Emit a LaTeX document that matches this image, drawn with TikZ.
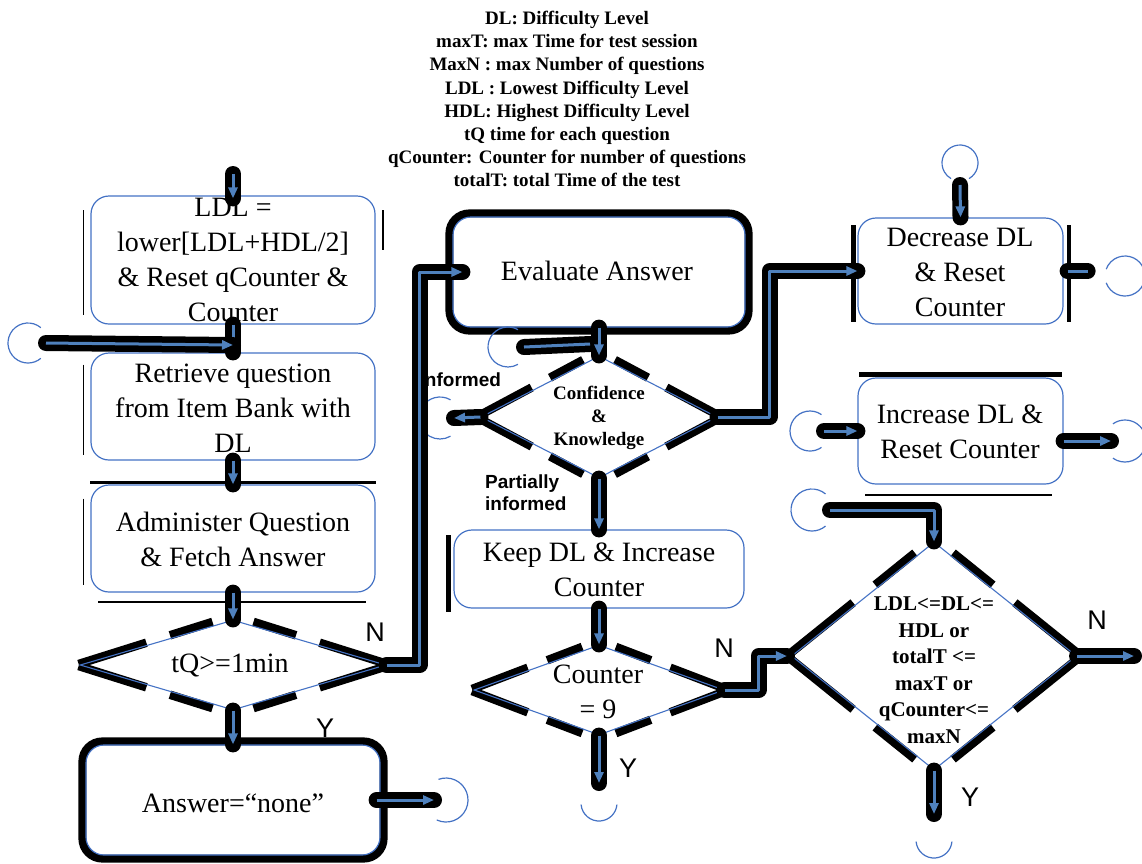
\documentclass[tikz,border=0pt]{standalone}
\usepackage{fontspec}
\setmainfont{Liberation Serif}
\newfontfamily\arialf{Liberation Sans}
\usetikzlibrary{shapes.geometric,arrows.meta,calc,backgrounds}
\definecolor{bblue}{HTML}{4472C4}
\definecolor{ablue}{HTML}{4F81BD}
\newcommand\diashade[1]{%
  \coordinate (#1-W) at ($(#1.west)!-4pt!(#1.center)$);
  \coordinate (#1-E) at ($(#1.east)!-4pt!(#1.center)$);
  \coordinate (#1-N) at ($(#1.north)!-4pt!(#1.center)$);
  \coordinate (#1-S) at ($(#1.south)!-4pt!(#1.center)$);
  \foreach \s/\t in {W/N,W/S,E/N,E/S}{%
    \draw[shd] ($(#1-\s)!0.02!(#1-\t)$) -- ($(#1-\s)!0.45!(#1-\t)$);
    \draw[shd] ($(#1-\s)!0.6!(#1-\t)$) -- ($(#1-\s)!0.87!(#1-\t)$);
  }}
\begin{document}
\begin{tikzpicture}[x=1pt,y=-1pt,
  box/.style={draw=bblue, line width=1.2pt, rounded corners=18pt, inner sep=0pt},
  dia/.style={diamond, draw=bblue, line width=1.1pt, inner sep=0pt},
  txt/.style={font=\fontsize{28}{35}\selectfont, align=center, inner sep=0pt},
  btxt/.style={font=\bfseries\fontsize{21}{26.5}\selectfont, align=center, inner sep=0pt},
  lab/.style={font=\arialf\fontsize{27}{30}\selectfont, inner sep=0pt},
  slab/.style={font=\arialf\bfseries\fontsize{19}{22}\selectfont, align=left, inner sep=0pt},
  arr/.style={draw=ablue, line width=3pt, line join=round, -{Triangle[length=11pt,width=9pt]},
    preaction={draw=black, line width=16pt, line cap=round, line join=round, -}},
  lnk/.style={draw=ablue, line width=3pt, line join=round,
    preaction={draw=black, line width=16pt, line cap=round, line join=round}},
  conn/.style={draw=bblue, line width=1.2pt},
  shd/.style={draw=black, line width=8.5pt},
  thinshd/.style={draw=black, line width=1.8pt}]
\useasboundingbox (0,0) rectangle (1142,863);

% legend
\node[font=\bfseries\fontsize{19}{23.1}\selectfont, align=center, inner sep=0pt] (leg) at (567,99)
  {DL: Difficulty Level\\maxT: max Time for test session\\MaxN : max Number of questions\\LDL : Lowest Difficulty Level\\HDL: Highest Difficulty Level\\tQ time for each question\\qCounter: Counter for number of questions\\totalT: total Time of the test};

% boxes
\node[box, minimum width=284pt, minimum height=128pt] (b1) at (233,260) {};
\node[box, minimum width=284pt, minimum height=107pt] (b2) at (233,406.5) {};
\node[box, minimum width=284pt, minimum height=107pt] (b3) at (233,538.5) {};
\node[box, minimum width=294pt, minimum height=110pt] (ans) at (233,800) {};
\node[box, minimum width=292pt, minimum height=110pt] (eval) at (599,272) {};
\node[box, minimum width=290pt, minimum height=78pt] (keep) at (599,569) {};
\node[box, minimum width=205pt, minimum height=106pt] (dec) at (960.5,271) {};
\node[box, minimum width=205pt, minimum height=106pt] (inc) at (960.5,431) {};

% diamonds
\node[dia, minimum width=306pt, minimum height=90pt] (d1) at (233,665) {};
\node[dia, minimum width=236pt, minimum height=122pt] (d2) at (599,417) {};
\node[dia, minimum width=250pt, minimum height=90pt] (d3) at (599,690) {};
\node[dia, minimum width=285pt, minimum height=228pt] (d4) at (934,656) {};

% shadows
\begin{pgfonlayer}{background}
  \diashade{d1}\diashade{d2}\diashade{d3}\diashade{d4}
  \draw[black, line width=8pt, rounded corners=20pt] ($(eval.north west)+(-3,-3)$) rectangle ($(eval.south east)+(3,3)$);
  \draw[black, line width=8pt, rounded corners=20pt] ($(ans.north west)+(-3,-3)$) rectangle ($(ans.south east)+(3,3)$);
  \draw[thinshd] ($(b1.west)+(-7,-50)$) -- ($(b1.west)+(-7,55)$);
  \draw[thinshd] ($(b1.east)+(7,-50)$) -- ($(b1.east)+(7,-10)$);
  \draw[thinshd] ($(b2.west)+(-7,-42)$) -- ($(b2.west)+(-7,48)$);
  \draw[thinshd] ($(b3.west)+(-7,-40)$) -- ($(b3.west)+(-7,46)$);
  \draw[black, line width=3pt] ($(b3.north west)+(0,-2)$) -- ($(b3.north east)+(0,-2)$);
  \draw[thinshd] ($(b3.south west)+(8,9)$) -- ($(b3.south east)+(-10,9)$);
  \draw[black, line width=5pt] ($(keep.west)+(-5,-34)$) -- ($(keep.west)+(-5,43)$);
  \draw[black, line width=5pt] ($(dec.west)+(-4,-46)$) -- ($(dec.west)+(-4,51)$);
  \draw[black, line width=4pt] ($(dec.east)+(5,-46)$) -- ($(dec.east)+(5,51)$);
  \draw[black, line width=5pt] ($(inc.north west)+(2,-3)$) -- ($(inc.north east)+(-2,-3)$);
  \draw[thinshd] ($(inc.south west)+(8,10)$) -- ($(inc.south east)+(-12,10)$);
\end{pgfonlayer}

% texts
\node[txt] (t1) at (233,260) {LDL =\\lower[LDL+HDL/2]\\\& Reset qCounter \&\\Counter};
\node[txt] (t2) at (233,408) {Retrieve question\\from Item Bank with\\DL};
\node[txt] (t3) at (233,539) {Administer Question\\\& Fetch Answer};
\node[txt] (t4) at (230,665) {tQ>=1min};
\node[txt] (t5) at (233,803) {Answer=“none”};
\node[txt] (t6) at (597,271) {Evaluate Answer};
\node[font=\bfseries\fontsize{19}{23}\selectfont, align=center, inner sep=0pt] (t7) at (599,418) {Confidence\\\&\\Knowledge};
\node[txt] (t8) at (599,570) {Keep DL \& Increase\\Counter};
\node[txt] (t9) at (598,692) {Counter\\= 9};
\node[btxt] (t10) at (934,670) {LDL<=DL<=\\HDL or\\totalT <=\\maxT or\\qCounter<=\\maxN};
\node[txt] (t11) at (960,272) {Decrease DL\\\& Reset\\Counter};
\node[txt] (t12) at (960,431.5) {Increase DL \&\\Reset Counter};

% labels
\node[slab, anchor=west] (l1) at (419.5,380) {Informed};
\node[slab, anchor=west] (l2) at (485,493) {Partially\\informed};
\node[lab] (n1) at (375,632) {N};
\node[lab] (y1) at (325,728) {Y};
\node[lab] (n3) at (724,648) {N};
\node[lab] (y3) at (628,768) {Y};
\node[lab] (n4) at (1097,620) {N};
\node[lab] (y4) at (970,797) {Y};

% connector circles
\coordinate (c1) at (28,343);
\coordinate (c2) at (508,347);
\coordinate (c3) at (440,418);
\coordinate (c4) at (960,163);
\coordinate (c5) at (1125,276);
\coordinate (c6) at (810,431);
\coordinate (c7) at (1125,441);
\coordinate (c8) at (812,510);
\coordinate (c9) at (446,800);
\coordinate (c10) at (599,803);
\coordinate (c11) at (934,840);
\draw[conn] (c1) ++(50:20pt) arc[start angle=50, end angle=310, radius=20pt];
\draw[conn] (c2) ++(60:20pt) arc[start angle=60, end angle=300, radius=20pt];
\draw[conn] (c3) ++(60:21pt) arc[start angle=60, end angle=300, radius=21pt];
\draw[conn] (c4) ++(-60:18pt) arc[start angle=-60, end angle=240, radius=18pt];
\draw[conn] (c5) ++(200:20pt) arc[start angle=200, end angle=520, radius=20pt];
\draw[conn] (c6) ++(55:20pt) arc[start angle=55, end angle=305, radius=20pt];
\draw[conn] (c7) ++(-125:21pt) arc[start angle=-125, end angle=125, radius=21pt];
\draw[conn] (c8) ++(50:21pt) arc[start angle=50, end angle=310, radius=21pt];
\draw[conn] (c9) ++(-115:22pt) arc[start angle=-115, end angle=110, radius=22pt];
\draw[conn] (c10) ++(185:18pt) arc[start angle=185, end angle=355, radius=18pt];
\draw[conn] (c11) ++(185:18pt) arc[start angle=185, end angle=355, radius=18pt];

% free ends
\coordinate (s0) at (233,174);
\coordinate (j1) at (233,345);
\coordinate (j8) at (590,344);
\coordinate (e20) at (1134,656);

% connectors
\draw[arr] (s0) -- ([yshift=-3pt]b1.north);
\draw[arr] (b1.south) -- (b2.north);
\draw[arr] ($(c1)+(18,0)$) -- (j1);
\draw[arr] (b2.south) -- (b3.north);
\draw[arr] (b3.south) -- (d1.north);
\draw[arr] (d1.south) -- (ans.north);
\draw[arr] (d1.east) -- ++(33,0) |- ([xshift=10pt]eval.west);
\draw[arr] ([xshift=-4pt]ans.east) -- ($(c9)+(-12,0)$);
\draw[lnk] ($(c2)+(16,0)$) -- (j8);
\draw[arr] (eval.south) -- (d2.north);
\draw[arr] (d2.west) -- ($(c3)+(14,0)$);
\draw[arr] (d2.south) -- (keep.north);
\draw[arr] (d2.east) -- ++(52,0) |- (dec.west);
\draw[arr] ($(c4)+(0,22)$) -- (dec.north);
\draw[lnk] ([xshift=4pt]dec.east) -- ([xshift=24pt]dec.east);
\draw[arr] ($(c6)+(14,0)$) -- (inc.west);
\draw[arr] ([yshift=-10pt]inc.east) -- ($(c7)+(-14,0)$);
\draw[arr] (keep.south) -- (d3.north);
\draw[arr] (d3.south) -- ($(c10)+(0,-20)$);
\draw[arr] (d3.east) -- ++(34,0) |- ([xshift=-4pt]d4.west);
\draw[arr] ($(c8)+(18,0)$) -| (d4.north);
\draw[arr] (d4.east) -- (e20);
\draw[arr] (d4.south) -- ($(c11)+(0,-26)$);
\end{tikzpicture}
\end{document}
